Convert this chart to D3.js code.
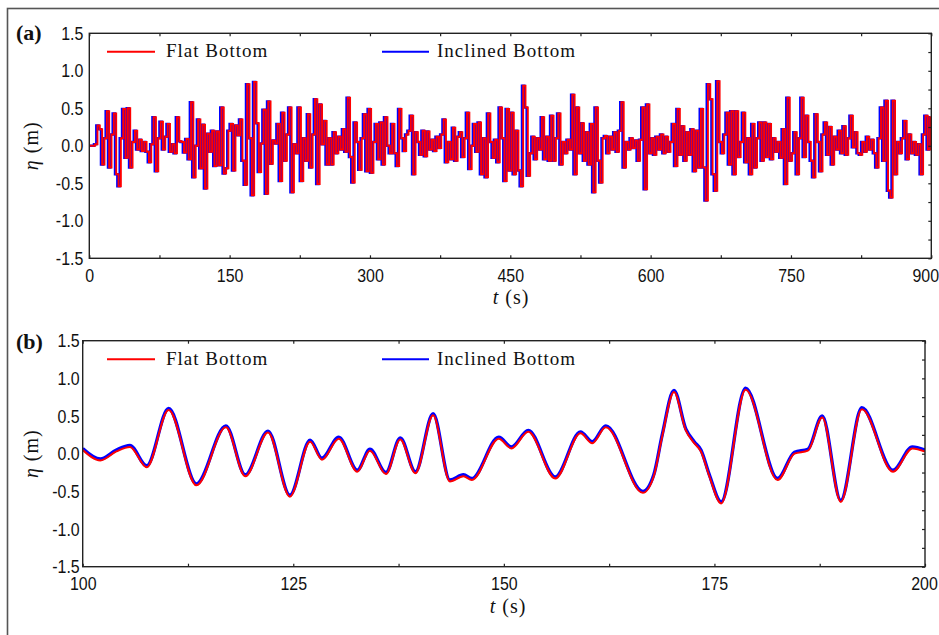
<!DOCTYPE html>
<html>
<head>
<meta charset="utf-8">
<script src="https://cdn.jsdelivr.net/npm/d3@7"></script>
<style>
  html, body { margin: 0; padding: 0; background: #fff; }
  svg { display: block; }
</style>
</head>
<body>
<svg id="fig" width="939" height="635"></svg>
<script>
// ---------------- data ----------------
// Panel (a): free-surface elevation over the full record, sampled every 2.5 s (0 … 900 s)
const sampleStepA = 2.5;
const etaFlatA = [
  // 0 – 97.5 s
  0, 0, 0, 0.02, 0.27, 0.22, -0.25, 0.10, 0.46, -0.29,
  0.15, 0.43, -0.38, -0.54, 0.10, 0.49, -0.16, 0.50, -0.29, 0.05,
  0.20, -0.05, 0.08, -0.07, 0.05, -0.08, -0.22, 0.02, 0.38, -0.34,
  0.10, 0.32, -0.05, 0.12, 0.29, -0.08, 0.02, -0.10, 0.38, 0.06,
  // 100 – 197.5 s
  0.05, -0.09, 0.09, -0.18, 0.58, -0.42, 0.00, 0.35, -0.30, 0.28,
  -0.57, 0.16, -0.08, 0.20, -0.27, 0.19, -0.26, 0.51, -0.37, -0.30,
  0.20, 0.29, -0.33, 0.27, 0.14, 0.35, -0.20, -0.52, 0.82, 0.10,
  -0.66, 0.85, 0.30, -0.35, 0.03, 0.48, -0.64, 0.59, -0.24, 0.07,
  // 200 – 297.5 s
  0.03, 0.29, -0.47, 0.44, -0.20, 0.15, 0.51, -0.62, 0.02, -0.10,
  0.51, -0.47, 0.10, -0.20, 0.42, -0.29, 0.15, 0.62, -0.51, 0.55,
  0.02, 0.33, -0.25, 0.10, -0.25, 0.18, -0.10, 0.12, -0.05, 0.22,
  -0.08, 0.64, -0.15, -0.49, 0.31, 0.05, -0.32, 0.10, 0.42, -0.34,
  // 300 – 397.5 s
  0.49, -0.36, 0.05, 0.29, -0.18, 0.31, -0.25, 0.38, 0.00, -0.10,
  0.29, -0.10, -0.27, 0.49, 0.10, -0.07, 0.15, 0.20, 0.40, -0.38,
  0.18, 0.05, -0.12, 0.20, -0.14, 0.19, -0.05, 0.08, -0.07, 0.12,
  -0.03, 0.15, 0.35, -0.22, 0.05, -0.18, 0.24, -0.20, 0.12, 0.18,
  // 400 – 497.5 s
  -0.15, 0.10, 0.44, -0.31, 0.00, 0.29, -0.08, 0.31, -0.38, 0.10,
  -0.42, 0.43, 0.05, -0.16, 0.08, -0.22, 0.51, 0.10, -0.47, 0.49,
  -0.33, 0.44, -0.38, 0.20, -0.33, -0.54, 0.80, 0.51, -0.40, -0.10,
  0.12, -0.18, 0.10, -0.05, 0.38, -0.18, 0.12, -0.20, 0.40, -0.20,
  // 500 – 597.5 s
  0.10, 0.43, -0.25, 0.05, -0.10, 0.08, -0.05, 0.68, -0.38, 0.51,
  -0.10, 0.30, -0.20, 0.18, -0.25, 0.29, -0.62, 0.51, -0.20, -0.49,
  0.10, 0.13, -0.10, 0.12, -0.05, 0.18, -0.08, 0.20, 0.58, -0.29,
  0.05, -0.05, 0.10, -0.03, 0.07, -0.20, 0.08, 0.51, -0.58, 0.55,
  // 600 – 697.5 s
  -0.10, 0.10, -0.12, 0.12, -0.05, 0.15, -0.10, 0.12, -0.08, 0.05,
  0.29, -0.27, 0.49, -0.12, 0.26, -0.20, 0.18, -0.12, 0.22, -0.34,
  0.20, -0.29, 0.49, -0.29, -0.73, 0.82, 0.62, -0.38, -0.60, 0.86,
  0.05, -0.10, 0.15, 0.44, -0.25, 0.46, -0.38, 0.46, -0.15, 0.05,
  // 700 – 797.5 s
  0.44, -0.22, 0.10, -0.38, 0.29, -0.29, 0.10, 0.31, -0.20, 0.31,
  -0.15, 0.29, -0.18, 0.10, -0.08, 0.05, -0.16, 0.22, -0.51, 0.64,
  -0.20, -0.10, 0.18, -0.38, 0.10, 0.64, -0.15, 0.40, 0.05, -0.20,
  -0.42, 0.42, 0.05, -0.34, 0.15, 0.31, -0.12, 0.25, -0.25, 0.12,
  // 800 – 900 s
  -0.05, 0.20, -0.10, 0.26, -0.12, 0.10, 0.40, -0.02, 0.18, -0.10,
  -0.12, 0.05, -0.08, 0.12, -0.05, 0.08, -0.10, -0.29, 0.10, 0.51,
  -0.20, 0.60, -0.60, -0.69, 0.60, -0.38, 0.05, -0.10, 0.10, 0.33,
  -0.18, 0.15, -0.10, 0.05, -0.12, 0.02, -0.38, 0.15, 0.40, -0.05,
  0.38
];
// the inclined-bottom gauge sees the same waves slightly earlier (s)
const inclinedLeadA = 1.3;

// Panel (b): close-up of 100 – 200 s
const timeB = [
  100, 102.1, 104.0, 105.6, 107.6, 110.2, 113.5, 117.0, 119.3, 122.0,
  124.6, 127.0, 128.4, 130.4, 132.6, 134.1, 136.0, 137.7, 139.5, 141.6,
  143.6, 145.2, 146.2, 149.4, 150.9, 152.9, 156.1, 159.1, 160.5, 162.1,
  166.5, 167.8, 168.8, 170.2, 171.6, 172.6, 173.4, 174.4, 175.8, 178.7,
  182.5, 184.5, 186.1, 187.8, 190.0, 192.5, 196.2, 198.5, 200
];
const etaFlatB = [
  0.05, -0.09, 0.03, 0.09, -0.18, 0.58, -0.42, 0.35, -0.30, 0.28,
  -0.57, 0.16, -0.08, 0.20, -0.24, 0.04, -0.27, 0.19, -0.26, 0.51,
  -0.37, -0.30, -0.35, 0.20, 0.07, 0.29, -0.33, 0.27, 0.14, 0.35,
  -0.52, -0.30, 0.23, 0.82, 0.31, 0.14, 0.03, -0.30, -0.66, 0.85,
  -0.35, 0.00, 0.04, 0.48, -0.64, 0.59, -0.24, 0.07, 0.03
];
const etaInclinedB = [
  0.07, -0.07, 0.05, 0.11, -0.16, 0.60, -0.40, 0.37, -0.28, 0.30,
  -0.55, 0.18, -0.06, 0.22, -0.22, 0.06, -0.25, 0.21, -0.24, 0.53,
  -0.35, -0.28, -0.33, 0.22, 0.09, 0.31, -0.31, 0.29, 0.16, 0.37,
  -0.50, -0.28, 0.25, 0.84, 0.33, 0.16, 0.05, -0.28, -0.64, 0.87,
  -0.33, 0.02, 0.06, 0.50, -0.62, 0.61, -0.22, 0.09, 0.05
];

const yTickValues = [-1.5, -1.0, -0.5, 0.0, 0.5, 1.0, 1.5];
const xTickValuesA = [0, 150, 300, 450, 600, 750, 900];
const xTickValuesB = [100, 125, 150, 175, 200];
const seriesNames = ["Flat Bottom", "Inclined Bottom"];
const seriesColors = ["#ff0000", "#0000ff"];
const panelLabels = ["(a)", "(b)"];

// ---------------- drawing ----------------
const svg = d3.select("#fig");
const tickFont = "'Liberation Sans', Arial, sans-serif";
const tickSquash = 0.84;          // narrow tick numerals
const serif = "'Liberation Serif', 'Times New Roman', serif";
const axisColor = "#222";

// outer frame
svg.append("rect")
  .attr("x", 7.5).attr("y", 8.5).attr("width", 940).attr("height", 640)
  .attr("fill", "none").attr("stroke", "#555").attr("stroke-width", 1.6);

function drawPanel(p) {
  const x = d3.scaleLinear().domain(p.xDomain).range([p.left, p.right]);
  const y = d3.scaleLinear().domain([-1.5, 1.5]).range([p.bottom, p.top]);
  const g = svg.append("g");

  const clipId = "clip-" + p.id;
  svg.append("clipPath").attr("id", clipId)
    .append("rect").attr("x", p.left).attr("y", p.top)
    .attr("width", p.right - p.left).attr("height", p.bottom - p.top);

  // series: inclined bottom underneath, flat bottom on top
  const plot = g.append("g").attr("clip-path", `url(#${clipId})`);
  p.series.slice().reverse().forEach(s => {
    const line = d3.line()
      .x(d => x(d[0])).y(d => y(d[1]))
      .curve(p.curve);
    plot.append("path")
      .datum(s.points)
      .attr("fill", "none")
      .attr("stroke", s.color)
      .attr("stroke-width", s.width)
      .attr("d", line);
  });

  // minor tick marks, pointing inward
  const tickStyle = sel => {
    sel.select(".domain").remove();
    sel.selectAll("line").attr("stroke", axisColor).attr("stroke-width", 1.2);
  };
  g.append("g").attr("transform", `translate(0,${p.bottom})`)
    .call(d3.axisBottom(x).tickValues(p.xMinor).tickSize(-3).tickFormat(""))
    .call(tickStyle);
  g.append("g").attr("transform", `translate(0,${p.top})`)
    .call(d3.axisTop(x).tickValues(p.xMinor).tickSize(-3).tickFormat(""))
    .call(tickStyle);
  g.append("g").attr("transform", `translate(${p.right},0)`)
    .call(d3.axisRight(y).tickValues(d3.range(-1.5, 1.501, 0.25)).tickSize(-3).tickFormat(""))
    .call(tickStyle);

  // tick labels (horizontally narrowed numerals)
  const labelStyle = sel => {
    sel.select(".domain").remove();
    sel.selectAll("text")
      .attr("fill", "#111")
      .style("font-family", tickFont)
      .style("font-size", "19px");
  };
  const yAxisG = g.append("g").attr("transform", `translate(${p.left},0)`)
    .call(d3.axisLeft(y).tickValues(yTickValues).tickSize(0).tickPadding(p.yPad)
      .tickFormat(d => d.toFixed(1)))
    .call(labelStyle);
  yAxisG.selectAll("text")
    .attr("x", -p.yPad / tickSquash)
    .attr("transform", `scale(${tickSquash},1)`);

  const xAxisG = g.append("g").attr("transform", `translate(0,${p.bottom})`)
    .call(d3.axisBottom(x).tickValues(p.xTicks).tickSize(0).tickPadding(10)
      .tickFormat(d3.format("d")))
    .call(labelStyle);
  xAxisG.selectAll("text")
    .attr("x", d => (d === p.xDomain[1] ? p.lastLabelShift : 0) / tickSquash)
    .attr("transform", `scale(${tickSquash},1)`);

  // plot frame
  g.append("rect")
    .attr("x", p.left).attr("y", p.top)
    .attr("width", p.right - p.left).attr("height", p.bottom - p.top)
    .attr("fill", "none").attr("stroke", axisColor).attr("stroke-width", 1.4);

  // legend
  const legendX = [[107, 155, 166], [382, 429, 437]];
  [0, 1].forEach(i => {
    const [x1, x2, tx] = legendX[i];
    g.append("line")
      .attr("x1", x1).attr("x2", x2)
      .attr("y1", p.top + 18.5).attr("y2", p.top + 18.5)
      .attr("stroke", seriesColors[i]).attr("stroke-width", 2);
    g.append("text")
      .attr("x", tx).attr("y", p.top + 24)
      .style("font-family", serif).style("font-size", "19px")
      .style("letter-spacing", "1px")
      .attr("fill", "#111")
      .text(seriesNames[i]);
  });

  // axis titles
  const yt = g.append("text")
    .attr("transform", `translate(38,${(p.top + p.bottom) / 2}) rotate(-90)`)
    .attr("text-anchor", "middle")
    .style("font-family", serif).style("font-size", "20px")
    .style("letter-spacing", "1px")
    .attr("fill", "#111");
  yt.append("tspan").style("font-style", "italic").text("η");
  yt.append("tspan").text(" (m)");

  const xt = g.append("text")
    .attr("x", p.xTitleX).attr("y", p.bottom + 46)
    .attr("text-anchor", "middle")
    .style("font-family", serif).style("font-size", "20px")
    .style("letter-spacing", "1px")
    .attr("fill", "#111");
  xt.append("tspan").style("font-style", "italic").text("t");
  xt.append("tspan").text(" (s)");

  // panel tag
  g.append("text")
    .attr("x", 16).attr("y", p.tagY)
    .style("font-family", serif).style("font-size", "22px")
    .style("font-weight", "bold")
    .attr("fill", "#111")
    .text(p.tag);
}

const timeA = etaFlatA.map((_, i) => i * sampleStepA);

drawPanel({
  id: "a", tag: panelLabels[0], tagY: 40,
  left: 89.3, right: 931.3, top: 33.3, bottom: 258.3,
  xDomain: [0, 900], xTicks: xTickValuesA, lastLabelShift: -6,
  xMinor: d3.range(0, 901, 75), yPad: 6, xTitleX: 511,
  curve: d3.curveStep,
  series: [
    { color: seriesColors[0], width: 1.9, points: timeA.map((t, i) => [t, etaFlatA[i]]) },
    { color: seriesColors[1], width: 2.4, points: timeA.map((t, i) => [t - inclinedLeadA, etaFlatA[i]]) }
  ]
});

drawPanel({
  id: "b", tag: panelLabels[1], tagY: 349,
  left: 82.7, right: 925, top: 340.7, bottom: 566.7,
  xDomain: [100, 200], xTicks: xTickValuesB, lastLabelShift: -1,
  xMinor: d3.range(100, 200.1, 12.5), yPad: 3, xTitleX: 508,
  curve: d3.curveMonotoneX,
  series: [
    { color: seriesColors[0], width: 2.0, points: timeB.map((t, i) => [t, etaFlatB[i]]) },
    { color: seriesColors[1], width: 3.4, points: timeB.map((t, i) => [t, etaInclinedB[i]]) }
  ]
});
</script>
</body>
</html>
